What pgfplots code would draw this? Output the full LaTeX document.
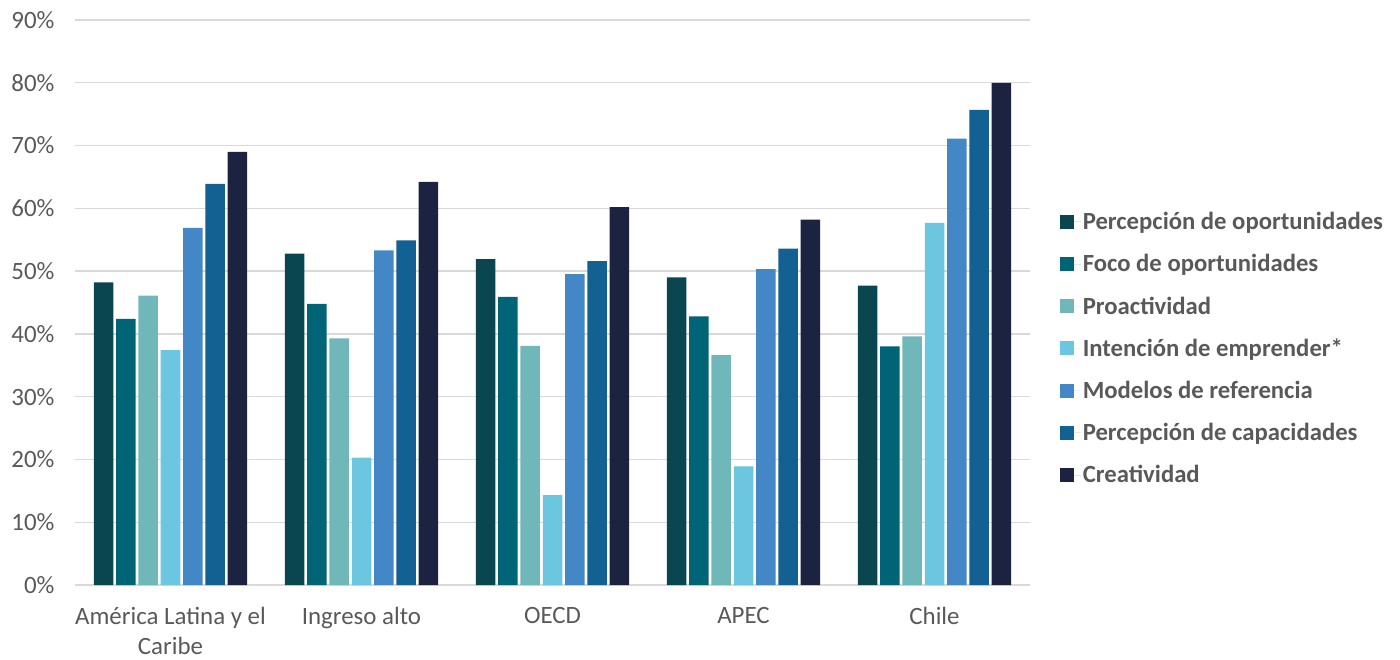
\documentclass[border=0pt]{standalone}
\usepackage{pgfplots}
\pgfplotsset{compat=1.18}
\usepackage{fontspec}
\setmainfont{Carlito}

\definecolor{cA}{HTML}{0A4650}
\definecolor{cB}{HTML}{006477}
\definecolor{cC}{HTML}{70B7BA}
\definecolor{cD}{HTML}{6DC6DF}
\definecolor{cE}{HTML}{4487C7}
\definecolor{cF}{HTML}{136093}
\definecolor{cG}{HTML}{1B2341}
\definecolor{gridgray}{HTML}{D9D9D9}
\definecolor{labelgray}{HTML}{595959}

\begin{document}
\begin{tikzpicture}
\begin{axis}[
  name=main,
  scale only axis,
  width=955bp, height=565bp,
  ybar=2.8bp, bar width=19.5bp,
  xmin=-0.5, xmax=4.5, ymin=0, ymax=90,
  xtick={0,1,2,3,4},
  xticklabels={{Am\'erica Latina y el\\Caribe}, Ingreso alto, OECD, APEC, Chile},
  ytick={0,10,...,90},
  yticklabel={\pgfmathprintnumber{\tick}\%},
  /pgf/number format/assume math mode=true,
  ymajorgrids,
  grid style={color=gridgray, line width=1.3bp},
  axis line style={draw=none},
  major tick length=0pt,
  tick label style={font=\fontsize{25}{30}\selectfont, text=labelgray},
  xticklabel style={align=center, yshift=-19bp},
  yticklabel style={xshift=-17bp},
  legend style={at={(1.031,0.4186)}, anchor=west, draw=none, fill=none,
    font=\bfseries\fontsize{24.8}{28}\selectfont, text=labelgray,
    row sep=19.3bp, inner sep=0pt,
    cells={anchor=west}},
  legend image code/.code={\fill[#1] (0bp,-7bp) rectangle (14bp,7bp);
    \path (0bp,0bp) -- (21bp,0bp);},
  every axis plot/.append style={draw=none},
]
\addplot[fill=cA] coordinates {(0,48.2) (1,52.8) (2,51.9) (3,49.0) (4,47.7)};
\addplot[fill=cB] coordinates {(0,42.4) (1,44.8) (2,45.9) (3,42.8) (4,38.0)};
\addplot[fill=cC] coordinates {(0,46.1) (1,39.3) (2,38.1) (3,36.6) (4,39.6)};
\addplot[fill=cD] coordinates {(0,37.4) (1,20.3) (2,14.3) (3,18.9) (4,57.7)};
\addplot[fill=cE] coordinates {(0,56.9) (1,53.3) (2,49.5) (3,50.3) (4,71.1)};
\addplot[fill=cF] coordinates {(0,63.9) (1,54.9) (2,51.6) (3,53.6) (4,75.7)};
\addplot[fill=cG] coordinates {(0,69.0) (1,64.2) (2,60.2) (3,58.2) (4,80.0)};
\legend{Percepci\'on de oportunidades, Foco de oportunidades, Proactividad,
  Intenci\'on de emprender*, Modelos de referencia, Percepci\'on de capacidades,
  Creatividad}
\end{axis}
\path (main.south west) ++(-75bp,-75bp) rectangle ++(1400bp,660bp);
\end{tikzpicture}
\end{document}
